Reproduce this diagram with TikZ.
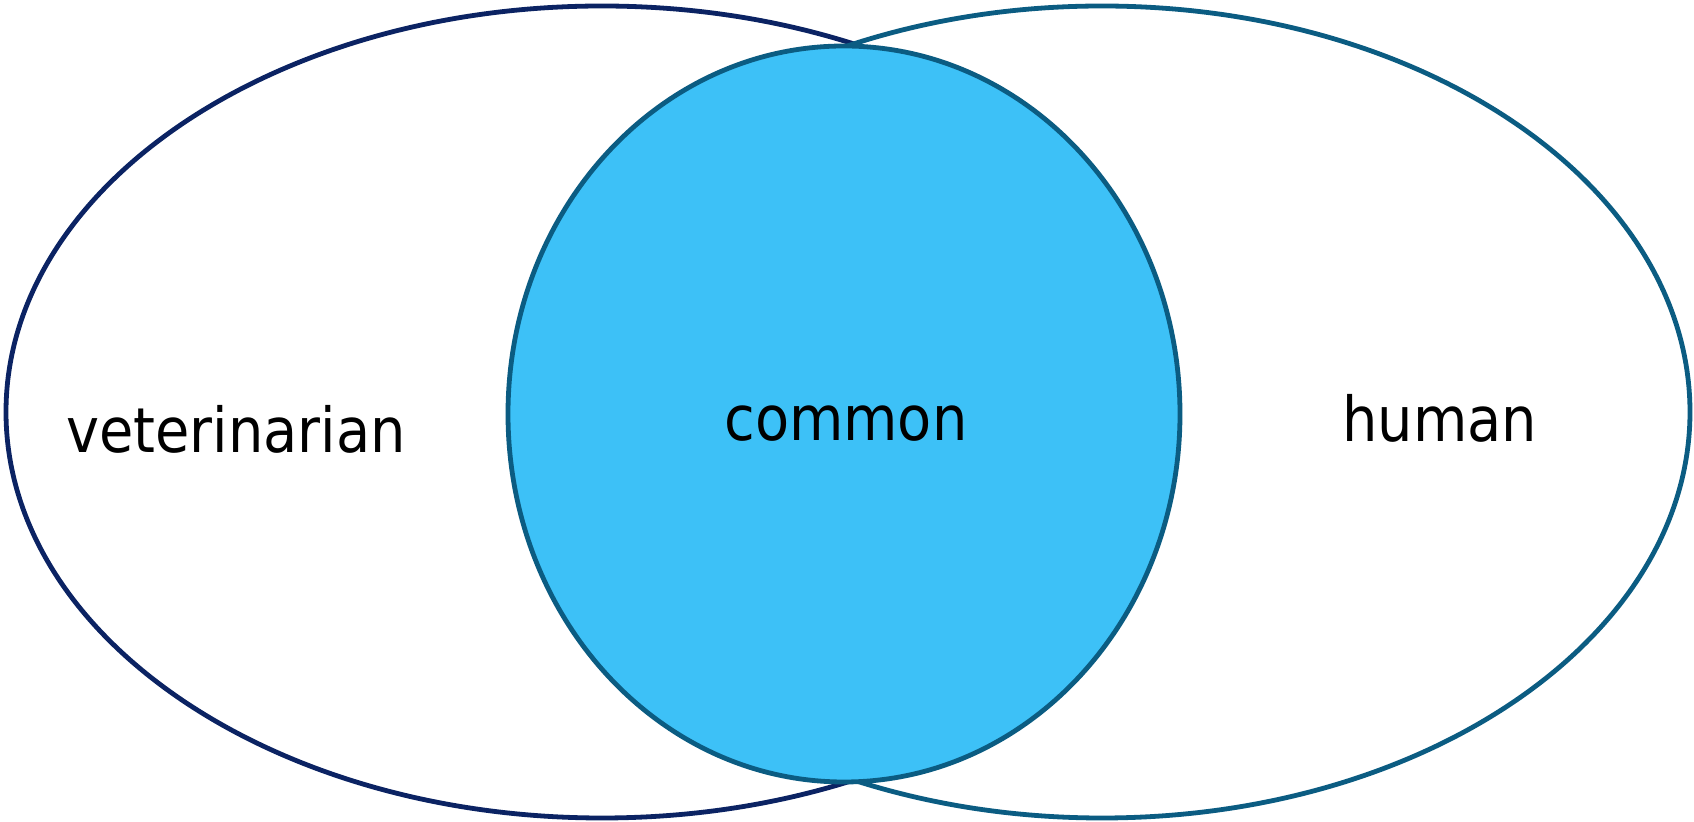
\documentclass[tikz,border=0pt]{standalone}
\usepackage{fontspec}
\setmainfont{DejaVu Sans Condensed}
\usetikzlibrary{shapes.geometric}
\definecolor{vnNavy}{HTML}{0B2363}
\definecolor{vnTeal}{HTML}{0B5C82}
\definecolor{vnSky}{HTML}{3DC1F7}
\definecolor{vnWhite}{HTML}{FFFFFF}

\begin{document}
\begin{tikzpicture}[
    x=0.5pt, y=-0.5pt,
    set/.style={ellipse, line width=2.4pt, fill=vnWhite, inner sep=0pt},
    label/.style={font=\fontsize{31}{37}\selectfont, text=black, inner sep=0pt}
]
    \useasboundingbox (0,0) rectangle (1694,822);

    % Sets
    \node[set, draw=vnNavy, minimum width=596pt, minimum height=406pt] (vet) at (602,412) {};
    \node[set, draw=vnTeal, minimum width=588pt, minimum height=406pt] (human) at (1102,412) {};
    \node[set, draw=vnTeal, fill=vnSky, minimum width=336pt, minimum height=368pt] (common) at (844,414) {};

    % Labels
    \node[label, anchor=base west] (vetlabel) at (66,453) {veterinarian};
    \node[label, anchor=base] (commonlabel) at (846,441) {common};
    \node[label, anchor=base west] (humanlabel) at (1342,442) {human};
\end{tikzpicture}
\end{document}
